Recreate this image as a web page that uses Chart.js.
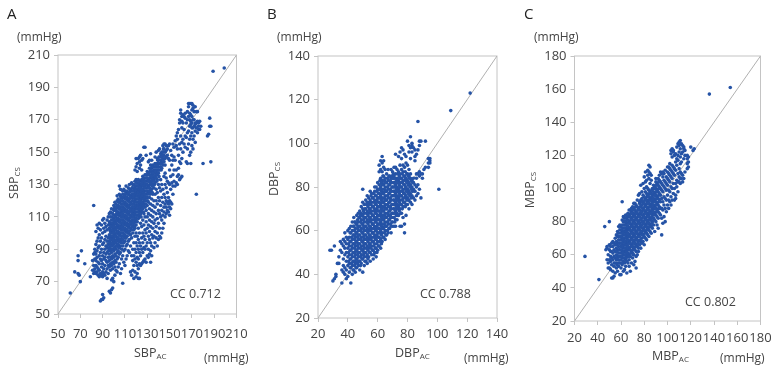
<!DOCTYPE html>
<html>
<head>
<meta charset="utf-8">
<script src="https://cdn.jsdelivr.net/npm/chart.js@4"></script>
<style>
  body { margin: 0; background: #fff; font-family: "Open Sans", sans-serif; color: #444; }
  #page { position: relative; width: 777px; height: 371px; overflow: hidden; }
  canvas { position: absolute; top: 0; }
  .txt { position: absolute; font-size: 12.5px; line-height: 16px; white-space: nowrap; }
  .unit { font-size: 12px; }
  .letter { font-size: 15px; color: #222; }
  .rot { transform: translate(-50%, -50%) rotate(-90deg); }
  sub { font-size: 8px; line-height: 0; vertical-align: -2px; }
</style>
</head>
<body>
<div id="page">
  <canvas id="chartA" width="258" height="371" style="left:0"></canvas>
  <canvas id="chartB" width="258" height="371" style="left:258px"></canvas>
  <canvas id="chartC" width="261" height="371" style="left:516px"></canvas>

  <div class="txt letter" style="left:7px;top:5px">A</div>
  <div class="txt unit" style="left:17px;top:29px">(mmHg)</div>
  <div class="txt rot" style="left:14px;top:183px">SBP<sub>CS</sub></div>
  <div class="txt" style="left:134px;top:345px">SBP<sub>AC</sub></div>
  <div class="txt unit" style="left:204px;top:350px">(mmHg)</div>
  <div class="txt" style="left:170px;top:286px">CC 0.712</div>

  <div class="txt letter" style="left:267px;top:5px">B</div>
  <div class="txt unit" style="left:277px;top:29px">(mmHg)</div>
  <div class="txt rot" style="left:274px;top:179px">DBP<sub>CS</sub></div>
  <div class="txt" style="left:395px;top:345px">DBP<sub>AC</sub></div>
  <div class="txt unit" style="left:464px;top:350px">(mmHg)</div>
  <div class="txt" style="left:420px;top:286px">CC 0.788</div>

  <div class="txt letter" style="left:524px;top:5px">C</div>
  <div class="txt unit" style="left:534px;top:29px">(mmHg)</div>
  <div class="txt rot" style="left:530px;top:190px">MBP<sub>CS</sub></div>
  <div class="txt" style="left:652px;top:348px">MBP<sub>AC</sub></div>
  <div class="txt unit" style="left:720px;top:350px">(mmHg)</div>
  <div class="txt" style="left:685px;top:294px">CC 0.802</div>
</div>

<script>
// values, one ys list per x column
const sbpAc = [61,65,68,69,70,71,74,79,81,82,83,
  84,85,86,87,88,89,90,91,92,93,94,95,96,97,98,99,100,101,102,103,104,105,106,107,108,109,110,
  111,112,113,114,115,116,117,118,119,120,121,122,123,124,125,126,127,128,129,130,131,132,133,134,135,136,137,
  138,139,140,141,142,143,144,145,146,147,148,149,150,151,152,153,154,155,156,157,158,159,160,161,162,163,164,
  165,166,167,168,169,170,171,172,173,174,175,176,177,178,180,184,185,186,187,189,199];
const sbpCs = [[63],[76],[86,83,75],[74],[70],[89],[81],[73],[77,83],[75,80,87,117],[78,84,88,90,76],
  [75,80,83,87,93,101],
  [76,79,85,89,95,105],
  [74,78,82,91,97,103],
  [73,77,81,86,92,99,106],
  [58,75,84,88,95,102],
  [59,74,79,83,90,97,105],
  [59,62,73,76,81,86,93,100,108],
  [60,75,78,84,88,94,103,109],
  [74,80,85,90,96,101,106],
  [76,83,87,92,98,104],
  [72,78,82,88,91,95,102,108],
  [75,80,85,89,93,97,105,110],
  [64,79,83,87,91,95,99,103,107,112],
  [63,77,81,85,89,93,97,101,105,110,113],
  [65,71,80,84,88,92,96,100,104,108,115],
  [66,72,78,82,86,90,94,98,102,106,112],
  [70,81,85,89,93,97,101,105,109,114,117],
  [74,79,83,87,91,95,99,103,107,111,116,119],
  [77,82,86,90,94,98,102,106,110,114,118],
  [76,84,88,92,96,100,104,108,112,116,120,123],
  [79,85,89,93,97,101,105,109,113,117,121],
  [81,87,91,95,99,103,107,111,115,119,124,129],
  [75,88,92,96,100,104,108,112,116,120,123,127],
  [78,84,90,94,98,102,106,110,114,118,122],
  [69,86,92,96,100,104,108,112,116,120,124,126],
  [82,89,94,98,102,106,110,114,118,122,127],
  [80,90,95,99,103,107,111,115,119,123,126],
  [84,92,97,101,105,109,113,117,121,125,129],
  [86,93,98,102,106,110,114,118,122,126],
  [89,95,100,104,108,112,116,120,124,128],
  [88,96,101,105,109,113,117,121,125,130],
  [76,92,99,103,107,111,115,119,123,127],
  [74,86,97,102,106,110,114,118,122,126,131],
  [77,83,90,100,104,108,112,116,120,124,128,130],
  [72,80,86,94,102,106,110,114,118,122,126,130],
  [76,84,90,98,103,107,111,115,119,123,127,132,139],
  [73,82,88,94,100,105,109,113,117,121,125,129,133,141,146],
  [75,80,85,92,98,107,111,115,119,123,127,131,138,143],
  [72,78,84,90,96,103,109,113,117,121,125,129,133,146],
  [72,81,88,94,100,110,114,118,122,126,130,140,144,147],
  [80,86,92,106,112,116,120,124,128,132,142,148],
  [81,90,97,104,113,117,121,125,129,133,139,145],
  [82,88,94,100,108,115,119,123,127,131,135,146],
  [83,91,98,105,112,118,122,126,130,134,153],
  [84,90,96,102,110,116,120,124,128,132,136,153],
  [82,92,100,107,114,120,124,128,132,136,148],
  [86,94,103,110,117,122,126,130,134,138],
  [85,90,98,105,112,119,125,129,133,137,144],
  [87,96,101,108,115,122,128,132,136,140,145],
  [82,89,94,104,111,118,125,130,134,138,142,149],
  [86,92,99,107,114,121,127,132,136,140,145],
  [97,103,110,117,124,130,134,138,142],
  [91,98,106,113,120,128,133,137,141],
  [94,101,108,116,124,131,135,139,143,147],
  [97,104,112,120,127,134,137,141,150],
  [92,100,109,118,125,133,139,143,146],
  [96,106,114,122,130,137,141,145,151],
  [98,103,112,120,128,139,143,147,152],
  [97,110,117,126,133,141,145,149],
  [100,108,114,122,130,140,144,148,150],
  [103,111,119,127,142,146,150,154],
  [106,113,116,124,135,144,148,152,155],
  [110,118,122,130,137,142,146,150,155],
  [112,116,120,128,134,147,151,154],
  [114,119,125,132,148,152],
  [113,118,122,131,146,154],
  [111,116,120,130,139,145,155],
  [115,119,127,135,151],
  [118,131,142,148],
  [124,129,136,145,155],
  [132,139,147,153],
  [129,145,157],
  [131,139,154,160],
  [130,135,152,158,162],
  [136,140,148,164],
  [133,144,155,168,170],
  [134,143,152,160,176,174],
  [135,146,156,165,172,169],
  [150,158,173,168],
  [155,172,164],
  [153,160,171,174],
  [144,159,168],
  [152,143,162,170,175],
  [155,163,172,178,180],
  [148,158,166,170,174,180],
  [143,150,160,167,169,173,180],
  [154,162,165,168,172,176,180],
  [152,158,165,170,177,179],
  [160,166,170,175],
  [156,163,167,178,168],
  [124,165,168,175],
  [162,169,175],
  [164,168,166],
  [164,169],
  [166],
  [143],[160],[161],[171,166],[144,166],[200],[202]];

// the solid middle of each cloud
const sbpCoreAc = [96.5,98.5,100.5,102.5,104.5,106.5,108.5,110.5,112.5,114.5,116.5,118.5,120.5,
  122.5,124.5,126.5,128.5,130.5,132.5,134.5,136.5,138.5,140.5,142.5,144.5,
  97.5,99.5,101.5,103.5,105.5,107.5,109.5,111.5,113.5,115.5,117.5,119.5,
  121.5,123.5,125.5,127.5,129.5,131.5,133.5,135.5,137.5,139.5];
const sbpCoreCs = [
  [90,94,98,102,106],
  [90,94,98,102,106,110],
  [91,95,99,103,107,111,115],
  [92,96,100,104,108,112,116],
  [91,95,99,103,107,111,115,119],
  [94,98,102,106,110,114,118,122],
  [94,98,102,106,110,114,118,122],
  [97,101,105,109,113,117,121,124],
  [100,104,108,112,116,120,124],
  [99,103,107,111,115,119,123,127],
  [104,108,112,116,120,124,128],
  [104,108,112,116,120,124,128],
  [107,111,115,119,123,127,131],
  [111,115,119,123,127,131],
  [110,114,118,122,126,130],
  [113,117,121,125,129,133],
  [118,122,126,130,134],
  [120,124,128,132,136],
  [124,126,130,134,138],
  [125,129,133,137,141],
  [130,135,139],
  [132,136,139,143],
  [135,139,143,147],
  [139,143,147],
  [144,148,152],
  [92,96,100,104],
  [96,100,104,108],
  [94,98,102,106,110,114],
  [93,97,101,105,109,113,117],
  [96,100,104,108,112,116,120],
  [96,100,104,108,112,116,120],
  [99,103,107,111,115,119,123],
  [102,106,110,114,118,122],
  [101,105,109,113,117,121,125],
  [106,110,114,118,122,126],
  [106,110,114,118,122,126],
  [109,113,117,121,125,129],
  [113,117,121,125,129],
  [112,116,120,124,128],
  [115,119,123,127,131],
  [120,124,128,132],
  [122,126,130,134],
  [126,128,132,136],
  [127,131,135,139],
  [132,137,141],
  [134,138,141],
  [137,141,145]];

const dbpAc = [28,29,30,31,32,33,34,35,36,37,38,39,40,41,42,43,44,45,46,47,48,49,50,51,52,53,54,55,56,57,58,59,60,
  61,62,63,64,65,66,67,68,69,70,71,72,73,74,75,76,77,78,79,80,81,82,83,84,85,86,87,88,89,90,91,92,94,95,101,109,122];
const dbpCs = [[51],[51],[37],[38,53],[39,40],[45],[45,48],[51,55],
  [36,42,50,54],
  [41,44,47,53,56],
  [40,43,49,52,55,59],
  [38,42,46,50,54,57],
  [39,44,48,52,56,60],
  [41,45,49,53,57,61],
  [36,43,47,51,55,59,62],
  [40,44,48,52,56,60,64],
  [42,46,50,54,58,62,66],
  [41,45,49,53,57,61,64],
  [43,47,51,55,59,63,67],
  [44,48,52,56,60,64,68],
  [42,46,50,54,58,62,66,69],
  [45,49,53,57,61,65,68,71],
  [41,47,51,55,59,63,67,70,73,79],
  [44,48,52,56,60,64,68,72],
  [46,50,54,58,62,66,70,74],
  [45,49,53,57,61,65,69,73,76],
  [48,52,56,60,64,68,72,75],
  [46,50,54,58,62,66,70,74,78],
  [49,53,57,61,65,69,73,77],
  [47,51,55,59,63,67,71,75],
  [50,54,58,62,66,70,74,78,80],
  [48,52,56,60,64,68,72,76,80],
  [51,55,59,63,67,71,75,79,82],
  [53,57,61,65,69,73,77,81,87,90],
  [52,56,60,64,68,72,76,80,84,88,92],
  [55,59,63,67,71,75,79,83,87,91,94],
  [57,61,65,69,73,77,81,85,89,92],
  [56,60,64,68,72,76,80,84,88],
  [58,62,66,70,74,78,82,86],
  [59,63,67,71,75,79,83,88],
  [61,65,69,73,77,81,85],
  [59,62,66,70,74,78,82,84,88],
  [62,64,68,72,76,80,84,87],
  [62,66,70,74,78,82,85,89],
  [62,65,69,73,77,81,86,89,95],
  [65,68,72,76,80,84,88],
  [67,71,75,79,83,87,94],
  [62,70,74,78,82,86,90,96],
  [62,68,72,76,80,84,88,93,98],
  [66,71,75,79,83,87,90,97],
  [59,63,73,77,81,85,89,95],
  [67,72,76,80,84,91,94],
  [72,75,79,83,86,90,101],
  [70,74,78,82,85,88,96,99],
  [73,77,81,84,86,93,98,103],
  [72,76,80,83,96,100,99],
  [75,79,82,84,98],
  [74,78,81,94,97,92],
  [76,80,84,86,95],
  [77,81,86,110,97],
  [79,85,87,99,101],
  [75,86,101],
  [86,84],
  [88],
  [89,101],
  [89,91,93],
  [91,92,93],
  [79],[115],[123]];

const dbpCoreAc = [40.5,41.5,42.5,43.5,44.5,45.5,46.5,47.5,48.5,49.5,50.5,51.5,52.5,53.5,54.5,55.5,56.5,57.5,58.5,59.5,60.5,
  61.5,62.5,63.5,64.5,65.5,66.5,67.5,68.5,69.5,70.5,71.5,72.5,73.5,74.5,75.5,76.5,77.5,78.5,79.5,80.5,81.5,82.5,83.5,
  44.75,46.75,48.75,50.75,52.75,54.75,56.75,58.75,60.75,62.75,64.75,66.75,68.75,70.75,72.75,74.75,76.75,78.75];
const dbpCoreCs = [
  [46,50,54],
  [43,47,51,55,59],
  [45,49,53,57],
  [42,46,50,54,58,62],
  [44,48,52,56,60,64],
  [43,47,51,55,59,63],
  [45,49,53,57,61,65],
  [46,50,54,58,62,66],
  [44,48,52,56,60,64,67],
  [47,51,55,59,63,67],
  [49,53,57,61,65,69],
  [46,50,54,58,62,66,70],
  [48,52,56,60,64,68,72],
  [47,51,55,59,63,67,71],
  [50,54,58,62,66,70,73],
  [52,56,60,64,68,72,76],
  [51,55,59,63,67,71,75],
  [49,53,57,61,65,69,73,77],
  [52,56,60,64,68,72,76],
  [50,54,58,62,66,70,74,78],
  [53,57,61,65,69,73,77],
  [55,59,63,67,71,75,79,83],
  [54,58,62,66,70,74,78,82],
  [57,61,65,69,73,77,81,85],
  [59,63,67,71,75,79,83],
  [58,62,66,70,74,78,82],
  [60,64,68,72,76,80,84],
  [61,65,69,73,77,81,85],
  [63,67,71,75,79,83],
  [64,68,72,76,80,85],
  [66,70,74,78,82,86],
  [64,68,72,76,80,84],
  [67,71,75,79,83],
  [67,70,74,78,82,86],
  [69,73,77,81,85],
  [68,72,76,80,84],
  [70,74,78,82,86],
  [73,77,81,85],
  [71,75,79,83,87],
  [74,78,82,86],
  [74,77,81,85],
  [76,80,84],
  [75,79,83],
  [78,82],
  [46,50,54,58],
  [46,50,54,58,62],
  [48,52,56,60,64],
  [50,54,58,62,66],
  [52,56,60,64,68],
  [53,57,61,65,69],
  [55,59,63,67,71],
  [57,61,65,69,73],
  [59,63,67,71,75,79],
  [61,65,69,73,77,81],
  [62,66,70,74,78,82],
  [64,68,72,76,80],
  [66,70,74,78,82],
  [68,72,76,80,84],
  [70,74,78,82],
  [72,76,80,84],
  [74,78,82],
  [76,80,84]];

const mbpAc = [29,41,46,47,48,49,50,51,52,53,54,55,56,57,58,59,60,
  61,62,63,64,65,66,67,68,69,70,71,72,73,74,75,76,77,78,79,80,81,82,83,84,85,86,87,88,89,90,
  91,92,93,94,95,96,97,98,99,100,101,102,103,104,105,106,107,108,109,110,111,112,113,114,115,117,118,120,122,123,136,154];
const mbpCs = [[59],[45],[77],[63],[64,57,65],[55,60,52],[57,52,63,80,66],
  [51,56,59,62,65],
  [46,54,58,62,67],
  [46,50,57,61,65,68],
  [47,53,55,59,63,67],
  [49,55,58,62,66,70],
  [52,57,60,64,68,72],
  [50,55,59,63,67,71,74],
  [53,57,61,65,69,73,77],
  [48,55,59,63,67,71,75,78],
  [48,52,57,61,65,69,73,77],
  [54,58,62,66,70,74,78,92,81],
  [50,56,60,64,68,72,76,80,83],
  [51,55,58,62,66,70,74,78,82],
  [53,57,60,64,68,72,76,80,84],
  [49,56,59,63,67,71,75,79,83],
  [55,61,65,69,73,77,81,85],
  [53,57,60,64,68,72,76,80,84,87],
  [50,59,63,67,71,75,79,83,87],
  [55,62,66,70,74,78,82,86,88],
  [58,61,65,69,73,77,81,85,89],
  [54,60,64,68,72,76,80,84,88,91],
  [56,63,67,71,75,79,83,87,91],
  [52,59,62,66,70,74,78,82,86,90],
  [60,65,69,73,77,81,85,89,93],
  [62,64,68,72,76,80,84,88,96],
  [66,71,75,79,83,87,91,97,92],
  [64,68,73,77,81,85,89,93,102],
  [67,70,74,78,82,86,90,94,98],
  [68,72,76,80,84,88,92,96,103],
  [66,71,75,79,83,87,91,95,100,107],
  [70,74,78,82,86,90,94,98,110,104],
  [69,73,77,81,85,89,93,97,101,105],
  [72,76,80,84,88,92,96,100,108,111],
  [71,75,79,83,87,91,95,99,106,110,114],
  [74,78,82,86,90,94,98,103,109,113],
  [73,77,81,85,89,93,97,105,108],
  [76,80,84,88,92,96,100],
  [78,82,86,90,94,98,102],
  [74,81,85,89,93,97,101],
  [80,84,88,92,96,100,104,106],
  [78,83,87,91,95,99,103],
  [76,82,86,90,94,98,102,106],
  [85,89,93,97,101,105,108],
  [84,88,92,96,100,104,110],
  [72,82,88,94,99,103,109],
  [79,87,92,98,102,107,110],
  [83,90,95,101,105,109],
  [80,88,94,100,104,111],
  [86,93,99,103,107],
  [90,96,102,106,110,113],
  [88,93,99,105,109,113],
  [92,98,104,108,112,115],
  [90,95,101,107,111,121,123],
  [93,100,106,110,114,119,124],
  [97,103,109,113,122,123],
  [93,100,108,112,120],
  [94,96,103,111,116,121],
  [101,105,114,118,125],
  [98,104,109,117,120,127],
  [104,107,112,122,126,128],
  [103,106,110,115,119,124,129],
  [106,109,116,121,127],
  [104,108,122,126],
  [106,118,124,125],
  [110,120,123],
  [112,115,118,120],
  [113,116,119],
  [125],[123],[124],[157],[161]];

const mbpCoreAc = [56.5,58.5,60.5,62.5,64.5,66.5,68.5,70.5,72.5,74.5,76.5,78.5,80.5,82.5,84.5,86.5,88.5,90.5,92.5,
  61.5,63.5,65.5,67.5,69.5,71.5,73.5,75.5,77.5,79.5,81.5,83.5,85.5,87.5,89.5];
const mbpCoreCs = [
  [54,58,62,66],
  [55,59,63,67,71],
  [55,59,63,67,71,75],
  [58,62,66,70,74,78],
  [58,62,66,70,74,78,82],
  [59,63,67,71,75,79,83],
  [61,65,69,73,77,81,85],
  [60,63,67,71,75,79,83,87],
  [65,69,73,77,81,85,89],
  [67,71,75,79,83,87],
  [69,73,77,81,85,89],
  [72,76,80,84,88,92],
  [73,77,81,85,89,93],
  [75,79,83,87,91,95],
  [77,81,85,89,93,97],
  [79,83,87,91,95,99],
  [84,88,92,96,100],
  [86,90,94,98,102],
  [88,92,96,100,104],
  [61,65,69,73],
  [60,64,68,72,76,80],
  [61,65,69,73,77,81],
  [63,67,71,75,79,83],
  [65,69,73,77,81,85],
  [67,71,75,79,83,87],
  [69,73,77,81,85],
  [71,75,79,83,87],
  [74,78,82,86,90],
  [75,79,83,87,91],
  [77,81,85,89,93],
  [79,83,87,91,95],
  [81,85,89,93,97],
  [86,90,94],
  [88,92,96]];

// axis ranges, the grey line runs corner to corner
const sbpRange = [50, 210];
const dbpRange = [20, 140];
const mbpRange = [20, 180];

const dotColor = "#2553a6";

function toPoints(xs, ys) {
  return xs.flatMap((x, i) => ys[i].map((y) => ({ x: x, y: y })));
}

const boxPlugin = {
  id: "box",
  beforeDatasetsDraw(chart) {
    const a = chart.chartArea;
    const ctx = chart.ctx;
    ctx.save();
    ctx.strokeStyle = "#c4c4c4";
    ctx.lineWidth = 1;
    ctx.strokeRect(a.left, a.top, a.right - a.left, a.bottom - a.top);
    ctx.restore();
  },
};

function axisOptions(range, pad, fit) {
  return {
    type: "linear",
    min: range[0],
    max: range[1],
    grid: { drawOnChartArea: false, color: "#c4c4c4", tickLength: 4 },
    border: { display: false },
    ticks: {
      stepSize: 20,
      color: "#444",
      autoSkip: false,
      maxRotation: 0,
      padding: pad,
      font: { family: "'Open Sans'", size: 13 },
    },
    afterFit: fit,
  };
}

function makePanel(id, points, range, box) {
  return new Chart(document.getElementById(id), {
    type: "scatter",
    data: {
      datasets: [
        {
          data: range.map((v) => ({ x: v, y: v })),
          showLine: true,
          borderColor: "#b0b0b0",
          borderWidth: 1,
          pointRadius: 0,
          order: 2,
        },
        {
          data: points,
          backgroundColor: dotColor,
          borderWidth: 0,
          pointRadius: 1.8,
          order: 1,
        },
      ],
    },
    options: {
      responsive: false,
      animation: false,
      layout: { padding: { top: box.top, right: box.right, left: 0, bottom: 0 } },
      plugins: { legend: { display: false }, tooltip: { enabled: false } },
      scales: {
        x: axisOptions(range, box.xPad, (scale) => { scale.height = box.bottom; }),
        y: axisOptions(range, 4, (scale) => { scale.width = box.left; }),
      },
    },
    plugins: [boxPlugin],
  });
}

document.addEventListener("DOMContentLoaded", () => {
  makePanel("chartA", toPoints(sbpAc, sbpCs).concat(toPoints(sbpCoreAc, sbpCoreCs)), sbpRange,
    { left: 58, right: 21.5, top: 55, bottom: 57, xPad: 8 });
  makePanel("chartB", toPoints(dbpAc, dbpCs).concat(toPoints(dbpCoreAc, dbpCoreCs)), dbpRange,
    { left: 60, right: 19, top: 56, bottom: 53, xPad: 4 });
  makePanel("chartC", toPoints(mbpAc, mbpCs).concat(toPoints(mbpCoreAc, mbpCoreCs)), mbpRange,
    { left: 58.5, right: 16.5, top: 56, bottom: 50, xPad: 5 });
});
</script>
</body>
</html>
